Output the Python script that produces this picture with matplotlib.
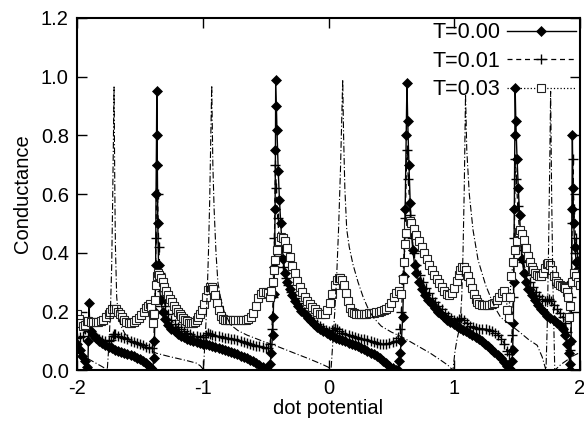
import matplotlib
matplotlib.use("Agg")
import matplotlib.pyplot as plt

plt.rcParams['font.family'] = ['Liberation Sans', 'DejaVu Sans']

# T = 0.00 (solid, diamonds)
x_t000 = [-2.00, -1.98, -1.96, -1.94, -1.925, -1.915, -1.91, -1.905, -1.90, -1.89,
          -1.87, -1.85, -1.825, -1.80, -1.775, -1.75, -1.725, -1.70, -1.675, -1.65,
          -1.625, -1.60, -1.575, -1.55, -1.525, -1.50, -1.475, -1.45, -1.425, -1.41,
          -1.40, -1.39, -1.385, -1.38, -1.375, -1.372, -1.368, -1.366, -1.362, -1.358,
          -1.352, -1.345, -1.335, -1.32, -1.30, -1.275, -1.25, -1.225, -1.20, -1.175,
          -1.15, -1.125, -1.10, -1.075, -1.05, -1.025, -1.00, -0.975, -0.95, -0.925,
          -0.90, -0.875, -0.85, -0.825, -0.80, -0.775, -0.75, -0.725, -0.70, -0.675,
          -0.65, -0.625, -0.60, -0.575, -0.55, -0.525, -0.50, -0.48, -0.465, -0.455,
          -0.445, -0.44, -0.435, -0.43, -0.425, -0.422, -0.42, -0.415, -0.41, -0.40,
          -0.39, -0.38, -0.37, -0.36, -0.345, -0.33, -0.31, -0.29, -0.265, -0.24,
          -0.215, -0.19, -0.165, -0.14, -0.115, -0.09, -0.065, -0.04, -0.015, 0.01,
          0.035, 0.06, 0.085, 0.11, 0.135, 0.16, 0.185, 0.21, 0.235, 0.26,
          0.285, 0.31, 0.335, 0.36, 0.385, 0.41, 0.435, 0.46, 0.485, 0.51,
          0.535, 0.55, 0.56, 0.57, 0.58, 0.59, 0.60, 0.61, 0.618, 0.624,
          0.63, 0.64, 0.65, 0.66, 0.67, 0.685, 0.70, 0.72, 0.745, 0.77,
          0.795, 0.82, 0.845, 0.87, 0.895, 0.92, 0.945, 0.97, 0.995, 1.02,
          1.045, 1.07, 1.095, 1.12, 1.145, 1.17, 1.195, 1.22, 1.245, 1.27,
          1.295, 1.32, 1.345, 1.37, 1.395, 1.42, 1.44, 1.45, 1.46, 1.465,
          1.47, 1.474, 1.478, 1.482, 1.485, 1.49, 1.50, 1.51, 1.52, 1.53,
          1.54, 1.555, 1.57, 1.59, 1.615, 1.64, 1.665, 1.69, 1.715, 1.74,
          1.765, 1.79, 1.815, 1.84, 1.865, 1.885, 1.90, 1.91, 1.92, 1.925,
          1.93, 1.933, 1.936, 1.94, 1.945, 1.95, 1.96, 1.97, 1.98, 1.99, 2.00]
g_t000 = [0.09, 0.07, 0.05, 0.03, 0.01, 0.0, 0.10, 0.23, 0.16, 0.135,
          0.12, 0.11, 0.10, 0.093, 0.086, 0.08, 0.075, 0.07, 0.066, 0.062,
          0.058, 0.055, 0.051, 0.047, 0.043, 0.038, 0.032, 0.025, 0.016, 0.008,
          0.0, 0.04, 0.10, 0.20, 0.36, 0.60, 0.80, 0.95, 0.70, 0.50,
          0.36, 0.29, 0.24, 0.20, 0.175, 0.155, 0.142, 0.132, 0.125, 0.118,
          0.113, 0.108, 0.104, 0.10, 0.097, 0.094, 0.091, 0.088, 0.085, 0.082,
          0.079, 0.076, 0.073, 0.07, 0.066, 0.062, 0.058, 0.054, 0.05, 0.045,
          0.04, 0.035, 0.03, 0.024, 0.018, 0.011, 0.005, 0.0, 0.02, 0.06,
          0.12, 0.18, 0.26, 0.35, 0.55, 0.75, 0.99, 0.90, 0.82, 0.68,
          0.58, 0.50, 0.43, 0.38, 0.33, 0.30, 0.275, 0.255, 0.235, 0.218,
          0.203, 0.19, 0.178, 0.167, 0.157, 0.148, 0.14, 0.133, 0.127, 0.121,
          0.116, 0.111, 0.106, 0.102, 0.098, 0.094, 0.09, 0.086, 0.081, 0.076,
          0.071, 0.066, 0.06, 0.054, 0.047, 0.04, 0.032, 0.024, 0.015, 0.008,
          0.002, 0.0, 0.03, 0.06, 0.10, 0.18, 0.32, 0.55, 0.80, 0.98,
          0.85, 0.70, 0.57, 0.47, 0.41, 0.36, 0.33, 0.30, 0.275, 0.255,
          0.238, 0.224, 0.211, 0.20, 0.19, 0.18, 0.172, 0.164, 0.157, 0.15,
          0.144, 0.138, 0.132, 0.126, 0.12, 0.113, 0.106, 0.098, 0.09, 0.081,
          0.072, 0.062, 0.051, 0.04, 0.028, 0.015, 0.005, 0.0, 0.03, 0.07,
          0.16, 0.30, 0.55, 0.80, 0.96, 0.85, 0.72, 0.62, 0.53, 0.44,
          0.38, 0.33, 0.30, 0.275, 0.255, 0.238, 0.223, 0.21, 0.198, 0.186,
          0.178, 0.17, 0.162, 0.155, 0.14, 0.12, 0.09, 0.06, 0.02, 0.0,
          0.10, 0.30, 0.55, 0.80, 0.62, 0.50, 0.42, 0.37, 0.34, 0.32, 0.30]

# T = 0.01 (dashed, plus)
x_t001 = [-2.00, -1.975, -1.95, -1.935, -1.925, -1.915, -1.90, -1.875, -1.85, -1.825,
          -1.80, -1.775, -1.75, -1.73, -1.715, -1.705, -1.695, -1.675, -1.65, -1.625,
          -1.60, -1.575, -1.55, -1.525, -1.50, -1.475, -1.45, -1.425, -1.405, -1.39,
          -1.38, -1.372, -1.366, -1.36, -1.35, -1.34, -1.325, -1.30, -1.275, -1.25,
          -1.225, -1.20, -1.175, -1.15, -1.125, -1.10, -1.075, -1.05, -1.025, -1.00,
          -0.975, -0.96, -0.945, -0.925, -0.90, -0.875, -0.85, -0.825, -0.80, -0.775,
          -0.75, -0.725, -0.70, -0.675, -0.65, -0.625, -0.60, -0.575, -0.55, -0.525,
          -0.50, -0.48, -0.465, -0.45, -0.44, -0.43, -0.422, -0.415, -0.405, -0.39,
          -0.375, -0.36, -0.34, -0.32, -0.295, -0.27, -0.245, -0.22, -0.195, -0.17,
          -0.145, -0.12, -0.095, -0.07, -0.045, -0.02, 0.005, 0.03, 0.05, 0.065,
          0.085, 0.11, 0.135, 0.16, 0.185, 0.21, 0.235, 0.26, 0.285, 0.31,
          0.335, 0.36, 0.385, 0.41, 0.435, 0.46, 0.485, 0.51, 0.535, 0.55,
          0.565, 0.58, 0.595, 0.61, 0.624, 0.635, 0.65, 0.665, 0.68, 0.70,
          0.725, 0.75, 0.775, 0.80, 0.825, 0.85, 0.875, 0.90, 0.925, 0.95,
          0.975, 1.00, 1.02, 1.04, 1.055, 1.075, 1.10, 1.125, 1.15, 1.175,
          1.20, 1.225, 1.25, 1.275, 1.30, 1.325, 1.35, 1.375, 1.40, 1.42,
          1.435, 1.45, 1.46, 1.47, 1.478, 1.486, 1.495, 1.505, 1.52, 1.535,
          1.55, 1.575, 1.60, 1.625, 1.65, 1.675, 1.70, 1.72, 1.74, 1.755,
          1.77, 1.79, 1.815, 1.84, 1.865, 1.885, 1.90, 1.915, 1.925, 1.932,
          1.938, 1.944, 1.952, 1.965, 1.98, 2.00]
g_t001 = [0.11, 0.112, 0.118, 0.14, 0.155, 0.15, 0.135, 0.122, 0.113, 0.107,
          0.102, 0.099, 0.098, 0.103, 0.118, 0.125, 0.122, 0.117, 0.113, 0.109,
          0.105, 0.101, 0.097, 0.093, 0.089, 0.085, 0.08, 0.075, 0.075, 0.10,
          0.22, 0.45, 0.70, 0.60, 0.42, 0.33, 0.27, 0.22, 0.19, 0.17,
          0.157, 0.147, 0.139, 0.132, 0.127, 0.122, 0.118, 0.115, 0.113, 0.113,
          0.12, 0.127, 0.125, 0.12, 0.117, 0.115, 0.113, 0.111, 0.109, 0.107,
          0.105, 0.102, 0.099, 0.096, 0.093, 0.09, 0.087, 0.084, 0.081, 0.078,
          0.075, 0.075, 0.09, 0.14, 0.25, 0.45, 0.70, 0.62, 0.52, 0.44,
          0.39, 0.35, 0.315, 0.29, 0.265, 0.245, 0.228, 0.213, 0.20, 0.188,
          0.177, 0.167, 0.158, 0.15, 0.143, 0.138, 0.135, 0.138, 0.145, 0.14,
          0.134, 0.128, 0.124, 0.12, 0.117, 0.114, 0.111, 0.108, 0.105, 0.102,
          0.099, 0.096, 0.093, 0.091, 0.09, 0.09, 0.092, 0.097, 0.10, 0.11,
          0.14, 0.20, 0.32, 0.52, 0.75, 0.65, 0.53, 0.45, 0.40, 0.36,
          0.325, 0.30, 0.28, 0.262, 0.246, 0.232, 0.219, 0.207, 0.196, 0.186,
          0.177, 0.17, 0.168, 0.175, 0.178, 0.17, 0.16, 0.152, 0.147, 0.144,
          0.142, 0.141, 0.14, 0.137, 0.133, 0.127, 0.119, 0.108, 0.09, 0.065,
          0.055, 0.07, 0.12, 0.25, 0.45, 0.72, 0.65, 0.56, 0.47, 0.41,
          0.37, 0.325, 0.30, 0.282, 0.267, 0.254, 0.243, 0.236, 0.238, 0.242,
          0.235, 0.222, 0.208, 0.195, 0.18, 0.16, 0.13, 0.09, 0.07, 0.25,
          0.50, 0.72, 0.55, 0.45, 0.40, 0.36]

# T = 0.03 (dotted, open squares)
x_t003 = [-2.00, -1.985, -1.97, -1.955, -1.94, -1.925, -1.91, -1.89, -1.87, -1.85,
          -1.83, -1.81, -1.79, -1.77, -1.75, -1.735, -1.72, -1.705, -1.69, -1.675,
          -1.66, -1.645, -1.63, -1.61, -1.59, -1.57, -1.55, -1.53, -1.51, -1.49,
          -1.47, -1.45, -1.435, -1.42, -1.41, -1.40, -1.393, -1.386, -1.38, -1.372,
          -1.365, -1.355, -1.345, -1.335, -1.32, -1.305, -1.29, -1.275, -1.26, -1.245,
          -1.23, -1.215, -1.20, -1.185, -1.17, -1.155, -1.14, -1.125, -1.11, -1.095,
          -1.08, -1.065, -1.05, -1.035, -1.02, -1.005, -0.99, -0.975, -0.96, -0.945,
          -0.93, -0.915, -0.90, -0.885, -0.87, -0.855, -0.84, -0.825, -0.81, -0.795,
          -0.78, -0.76, -0.74, -0.72, -0.70, -0.68, -0.66, -0.64, -0.62, -0.60,
          -0.58, -0.56, -0.54, -0.52, -0.50, -0.48, -0.465, -0.455, -0.445, -0.435,
          -0.425, -0.41, -0.395, -0.38, -0.365, -0.35, -0.33, -0.31, -0.29, -0.27,
          -0.25, -0.23, -0.21, -0.19, -0.17, -0.15, -0.13, -0.11, -0.09, -0.07,
          -0.05, -0.03, -0.01, 0.01, 0.03, 0.05, 0.065, 0.08, 0.095, 0.11,
          0.125, 0.14, 0.155, 0.17, 0.185, 0.20, 0.22, 0.24, 0.26, 0.28,
          0.30, 0.32, 0.34, 0.36, 0.38, 0.40, 0.42, 0.44, 0.46, 0.48,
          0.50, 0.52, 0.54, 0.56, 0.575, 0.59, 0.60, 0.61, 0.62, 0.632,
          0.645, 0.66, 0.68, 0.70, 0.72, 0.74, 0.76, 0.78, 0.80, 0.82,
          0.84, 0.86, 0.88, 0.90, 0.92, 0.94, 0.96, 0.98, 1.00, 1.02,
          1.035, 1.05, 1.065, 1.08, 1.095, 1.11, 1.125, 1.14, 1.155, 1.17,
          1.185, 1.20, 1.22, 1.24, 1.26, 1.28, 1.30, 1.32, 1.34, 1.36,
          1.38, 1.40, 1.413, 1.423, 1.433, 1.443, 1.455, 1.47, 1.485, 1.50,
          1.512, 1.525, 1.54, 1.555, 1.57, 1.585, 1.60, 1.615, 1.63, 1.645,
          1.66, 1.675, 1.69, 1.705, 1.72, 1.735, 1.75, 1.765, 1.78, 1.795,
          1.81, 1.825, 1.84, 1.855, 1.87, 1.885, 1.897, 1.907, 1.915, 1.925,
          1.94, 1.955, 1.97, 1.985, 2.00]
g_t003 = [0.19, 0.175, 0.16, 0.15, 0.153, 0.168, 0.167, 0.165, 0.163, 0.163,
          0.164, 0.167, 0.172, 0.18, 0.19, 0.20, 0.207, 0.21, 0.208, 0.20,
          0.19, 0.18, 0.172, 0.165, 0.162, 0.162, 0.165, 0.17, 0.178, 0.188,
          0.20, 0.212, 0.22, 0.225, 0.215, 0.19, 0.16, 0.19, 0.24, 0.29,
          0.32, 0.33, 0.325, 0.315, 0.30, 0.285, 0.27, 0.256, 0.243, 0.231,
          0.22, 0.21, 0.20, 0.192, 0.184, 0.177, 0.171, 0.166, 0.162, 0.16,
          0.16, 0.165, 0.172, 0.18, 0.19, 0.205, 0.225, 0.25, 0.272, 0.284,
          0.285, 0.275, 0.255, 0.23, 0.205, 0.185, 0.176, 0.172, 0.17, 0.17,
          0.17, 0.17, 0.17, 0.17, 0.17, 0.171, 0.172, 0.174, 0.18, 0.195,
          0.22, 0.245, 0.258, 0.265, 0.268, 0.262, 0.25, 0.27, 0.30, 0.34,
          0.375, 0.41, 0.44, 0.455, 0.45, 0.44, 0.415, 0.385, 0.355, 0.33,
          0.305, 0.283, 0.265, 0.25, 0.236, 0.225, 0.215, 0.207, 0.2, 0.193,
          0.19, 0.192, 0.205, 0.23, 0.26, 0.29, 0.307, 0.315, 0.315, 0.307,
          0.29, 0.262, 0.235, 0.212, 0.2, 0.195, 0.193, 0.192, 0.192, 0.192,
          0.193, 0.194, 0.195, 0.196, 0.197, 0.199, 0.201, 0.204, 0.208, 0.215,
          0.228, 0.248, 0.262, 0.27, 0.26, 0.31, 0.37, 0.43, 0.467, 0.495,
          0.51, 0.50, 0.48, 0.46, 0.44, 0.42, 0.40, 0.38, 0.36, 0.342,
          0.325, 0.31, 0.297, 0.283, 0.27, 0.26, 0.255, 0.262, 0.28, 0.305,
          0.325, 0.342, 0.352, 0.35, 0.34, 0.322, 0.3, 0.28, 0.26, 0.243,
          0.232, 0.225, 0.222, 0.221, 0.221, 0.222, 0.225, 0.23, 0.238, 0.25,
          0.262, 0.27, 0.25, 0.205, 0.177, 0.25, 0.32, 0.37, 0.41, 0.44,
          0.47, 0.477, 0.465, 0.443, 0.415, 0.39, 0.37, 0.352, 0.34, 0.33,
          0.323, 0.32, 0.322, 0.33, 0.347, 0.362, 0.364, 0.357, 0.34, 0.32,
          0.305, 0.297, 0.29, 0.286, 0.284, 0.28, 0.265, 0.25, 0.18, 0.22,
          0.30, 0.33, 0.32, 0.30, 0.29]

# dash-dot curve (no key)
x_dd = [-2.00, -1.95, -1.90, -1.85, -1.80, -1.77, -1.76, -1.745, -1.735, -1.725,
        -1.718, -1.712, -1.706, -1.70, -1.695, -1.685, -1.67, -1.65, -1.62, -1.58,
        -1.53, -1.45, -1.37, -1.28, -1.20, -1.12, -1.05, -1.02, -1.00, -0.995,
        -0.985, -0.975, -0.965, -0.955, -0.945, -0.937, -0.929, -0.92, -0.91, -0.895,
        -0.88, -0.86, -0.83, -0.78, -0.72, -0.65, -0.53, -0.40, -0.27, -0.15,
        -0.05, 0.0, 0.02, 0.035, 0.05, 0.065, 0.08, 0.095, 0.105, 0.113,
        0.12, 0.13, 0.145, 0.165, 0.195, 0.235, 0.275, 0.32, 0.36, 0.42,
        0.50, 0.59, 0.70, 0.81, 0.90, 0.95, 0.99, 1.005, 1.02, 1.035,
        1.046, 1.06, 1.07, 1.08, 1.09, 1.10, 1.12, 1.15, 1.19, 1.25,
        1.32, 1.37, 1.43, 1.52, 1.59, 1.66, 1.70, 1.72, 1.73, 1.74,
        1.75, 1.76, 1.767, 1.775, 1.785, 1.80, 1.85, 1.90, 1.95, 2.00]
g_dd = [0.06, 0.048, 0.036, 0.024, 0.012, 0.004, 0.0, 0.10, 0.20, 0.35,
        0.55, 0.75, 0.965, 0.62, 0.42, 0.25, 0.18, 0.15, 0.125, 0.105,
        0.09, 0.075, 0.058, 0.048, 0.04, 0.032, 0.024, 0.015, 0.005, 0.0,
        0.08, 0.16, 0.26, 0.40, 0.58, 0.78, 0.97, 0.70, 0.55, 0.40,
        0.30, 0.25, 0.20, 0.155, 0.135, 0.12, 0.10, 0.08, 0.058, 0.038,
        0.02, 0.01, 0.0, 0.10, 0.20, 0.32, 0.48, 0.68, 0.85, 0.99,
        0.80, 0.62, 0.48, 0.42, 0.36, 0.30, 0.25, 0.205, 0.178, 0.15,
        0.13, 0.112, 0.085, 0.058, 0.032, 0.017, 0.0, 0.06, 0.10, 0.13,
        0.15, 0.25, 0.40, 0.62, 0.94, 0.75, 0.60, 0.477, 0.375, 0.29,
        0.216, 0.18, 0.16, 0.13, 0.105, 0.085, 0.045, 0.015, 0.0, 0.15,
        0.40, 0.70, 0.95, 0.60, 0.30, 0.0, 0.02, 0.035, 0.05, 0.06]

fig = plt.figure(figsize=(5.84, 4.28), dpi=100)
ax = fig.add_axes([0.132, 0.135, 0.861, 0.823])

ax.plot(x_t000, g_t000, color='black', linestyle='-', linewidth=1.0,
        marker='D', markersize=5.5, markerfacecolor='black', markeredgewidth=0.5,
        label='T=0.00')
ax.plot(x_t001, g_t001, color='black', linestyle=(0, (4, 3)), linewidth=0.9,
        marker='+', markersize=6.5, markeredgewidth=1.0, label='T=0.01')
ax.plot(x_t003, g_t003, color='black', linestyle=':', linewidth=0.9,
        marker='s', markersize=6, markerfacecolor='white', markeredgecolor='#222222',
        markeredgewidth=0.8, label='T=0.03')
ax.plot(x_dd, g_dd, color='black', linestyle=(0, (6, 2, 1, 2)), linewidth=0.8)

ax.set_xlim(-2, 2)
ax.set_ylim(0, 1.2)
ax.set_xticks([-2, -1, 0, 1, 2])
ax.set_xticklabels(['-2', '-1', '0', '1', '2'])
ax.set_yticks([0.0, 0.2, 0.4, 0.6, 0.8, 1.0, 1.2])
ax.set_yticklabels(['0.0', '0.2', '0.4', '0.6', '0.8', '1.0', '1.2'])
ax.tick_params(direction='in', length=7, width=1.0, top=True, right=True,
               labelsize=14.5, pad=6)
for s in ax.spines.values():
    s.set_linewidth(1.5)

ax.set_xlabel('dot potential', fontsize=14.5, labelpad=1)
ax.set_ylabel('Conductance', fontsize=14.5, labelpad=6)

ax.legend(loc='upper right', frameon=False, markerfirst=False, fontsize=15.5,
          handlelength=3.2, handletextpad=0.3, borderaxespad=0.0, borderpad=0.2,
          labelspacing=0.35, numpoints=1)

fig.savefig('out.png', dpi=100)
